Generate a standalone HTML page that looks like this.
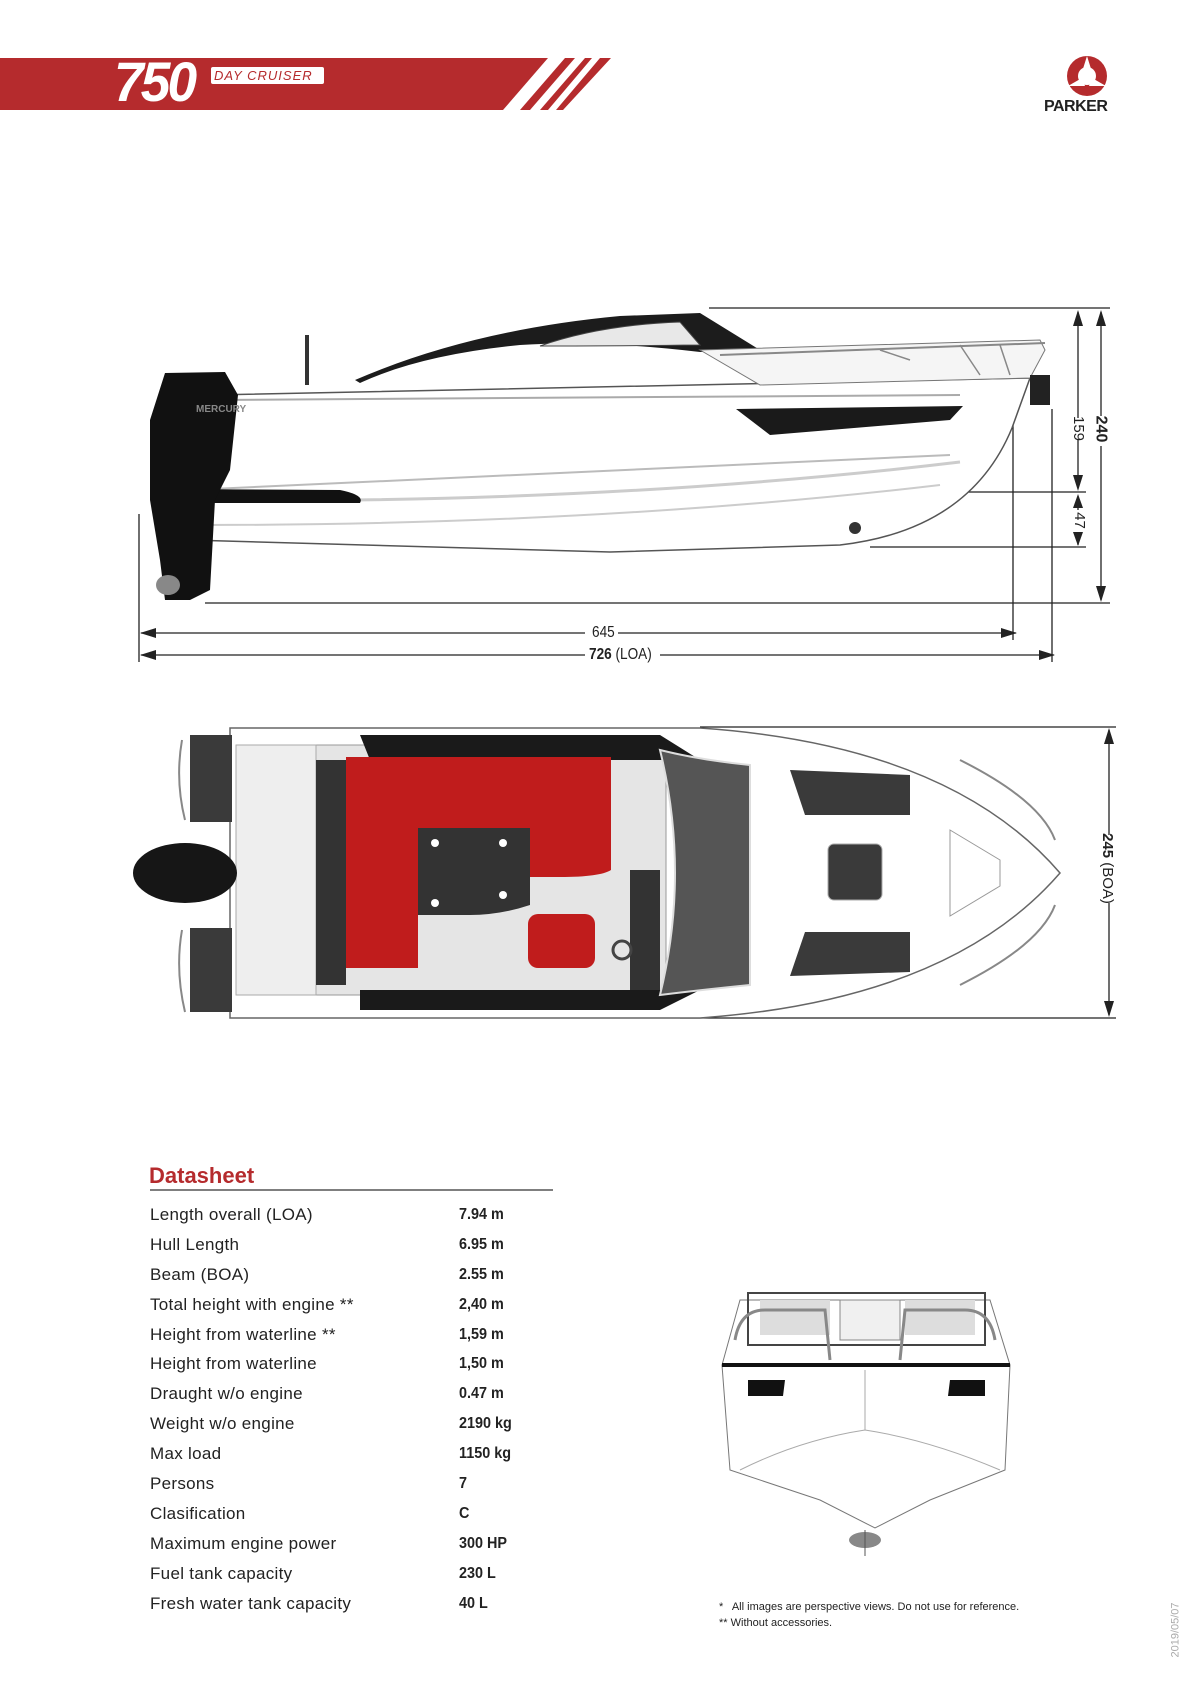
<!DOCTYPE html>
<html><head><meta charset="utf-8"><style>
html,body{margin:0;padding:0;background:#fff;}
body{width:1190px;height:1683px;position:relative;overflow:hidden;font-family:"Liberation Sans",sans-serif;}
.t{position:absolute;white-space:nowrap;}
.row{position:absolute;left:150px;font-size:17px;color:#222;letter-spacing:0.3px;}
.val{position:absolute;left:459px;font-size:16px;font-weight:bold;color:#222;transform:scaleX(0.9);transform-origin:left;}
</style></head><body>
<svg width="1190" height="1683" style="position:absolute;left:0;top:0" xmlns="http://www.w3.org/2000/svg">
<polygon points="0,58 611,58 563,110 0,110" fill="#b52b2d"/>
<polygon points="548,58 565,58 520,110 503,110" fill="#fff"/>
<polygon points="575,58 585,58 540,110 530,110" fill="#fff"/>
<polygon points="592,58 600,58 556,110 548,110" fill="#fff"/>
<rect x="211" y="67" width="113" height="17" rx="2" fill="#fff"/>
<circle cx="1087" cy="76" r="20" fill="#b52b2d"/>
<circle cx="1087" cy="76" r="9" fill="#fff"/>
<path d="M1087,56 L1092,72 L1082,72Z M1068,86 L1082,78 L1085,86Z M1106,86 L1092,78 L1089,86Z" fill="#fff"/>

<g stroke="#222" stroke-width="1.3" fill="none">
<line x1="709" y1="308" x2="1110" y2="308"/>
<line x1="941" y1="492" x2="1086" y2="492"/>
<line x1="870" y1="547" x2="1086" y2="547"/>
<line x1="205" y1="603" x2="1110" y2="603"/>
<line x1="139" y1="514" x2="139" y2="662"/>
<line x1="1013" y1="422" x2="1013" y2="640"/>
<line x1="1052" y1="409" x2="1052" y2="662"/>
<line x1="1078" y1="312" x2="1078" y2="418"/><line x1="1078" y1="440" x2="1078" y2="488"/>
<line x1="1078" y1="497" x2="1078" y2="510"/><line x1="1078" y1="532" x2="1078" y2="545"/>
<line x1="1101" y1="312" x2="1101" y2="416"/><line x1="1101" y1="446" x2="1101" y2="600"/>
<line x1="141" y1="633" x2="585" y2="633"/><line x1="618" y1="633" x2="1016" y2="633"/>
<line x1="141" y1="655" x2="585" y2="655"/><line x1="660" y1="655" x2="1054" y2="655"/>
</g>
<g fill="#222">
<polygon points="1078,310 1073,326 1083,326"/><polygon points="1078,491 1073,475 1083,475"/>
<polygon points="1078,494 1073,508 1083,508"/><polygon points="1078,546 1073,532 1083,532"/>
<polygon points="1101,310 1096,326 1106,326"/><polygon points="1101,602 1096,586 1106,586"/>
<polygon points="140,633 156,628 156,638"/><polygon points="1017,633 1001,628 1001,638"/>
<polygon points="140,655 156,650 156,660"/><polygon points="1055,655 1039,650 1039,660"/>
</g>
<path d="M211,395 L1030,378 L1012,428 Q970,530 840,545 L610,552 L190,540 L180,470 Z" fill="#fff" stroke="#555" stroke-width="1.5"/>
<path d="M190,490 L950,455" stroke="#bbb" stroke-width="2" fill="none"/>
<path d="M180,500 Q600,505 960,462" stroke="#ccc" stroke-width="3" fill="none"/>
<path d="M200,525 Q600,525 940,485" stroke="#ccc" stroke-width="2" fill="none"/>
<path d="M211,400 L960,395" stroke="#aaa" stroke-width="2" fill="none"/>
<path d="M355,380 Q470,330 620,316 L700,313 L760,350 L700,352 Q600,340 520,345 Q420,355 360,383Z" fill="#1c1c1c"/>
<path d="M540,346 Q600,325 680,322 L700,345 Q610,346 540,346Z" fill="#e8e8e8" stroke="#444"/>
<path d="M700,350 L1040,340 L1045,350 L1030,378 L760,385Z" fill="#f5f5f5" stroke="#777"/>
<path d="M720,355 L1045,343" stroke="#888" stroke-width="2" fill="none"/>
<path d="M880,350 L910,360 M960,345 L980,375 M1000,345 L1010,375" stroke="#888" stroke-width="1.5"/>
<rect x="305" y="335" width="4" height="50" fill="#333"/>
<path d="M736,409 L963,406 L950,420 L770,435Z" fill="#1a1a1a"/>
<path d="M151,489 L340,490 Q365,495 360,503 L151,503Z" fill="#111"/>
<rect x="1030" y="375" width="20" height="30" fill="#222"/>
<path d="M165,373 L225,372 L238,395 L230,470 L215,500 L210,590 L190,600 L165,600 L160,560 L150,500 L150,420 Z" fill="#111"/>
<ellipse cx="168" cy="585" rx="12" ry="10" fill="#888"/>
<circle cx="855" cy="528" r="6" fill="#333"/>

<g stroke="#222" stroke-width="1.3" fill="none">
<line x1="700" y1="727" x2="1116" y2="727"/>
<line x1="680" y1="1018" x2="1116" y2="1018"/>
<line x1="1109" y1="730" x2="1109" y2="835"/><line x1="1109" y1="903" x2="1109" y2="1015"/>
</g>
<polygon points="1109,728 1104,744 1114,744" fill="#222"/><polygon points="1109,1017 1104,1001 1114,1001" fill="#222"/>
<path d="M230,728 L700,728 Q950,745 1060,873 Q950,1000 700,1018 L230,1018 Z" fill="#fff" stroke="#666" stroke-width="1.5"/>
<path d="M190,735 L232,735 L232,822 L190,822Z M190,928 L232,928 L232,1012 L190,1012Z" fill="#3a3a3a"/>
<path d="M182,740 Q175,780 185,820 M182,930 Q175,970 185,1012" stroke="#888" fill="none" stroke-width="2"/>
<rect x="236" y="745" width="430" height="250" fill="#e5e5e5" stroke="#999"/>
<rect x="236" y="745" width="80" height="250" fill="#eee" stroke="#aaa"/>
<path d="M360,735 L660,735 L700,760 L660,760 L370,760Z M360,1010 L660,1010 L700,990 L360,990Z" fill="#1a1a1a"/>
<rect x="316" y="760" width="30" height="225" fill="#333"/>
<path d="M346,757 L611,757 L611,870 Q600,877 560,877 L418,877 L418,968 L346,968Z" fill="#c01c1c"/>
<path d="M418,828 L530,828 L530,905 Q500,915 470,915 L418,915Z" fill="#333"/>
<circle cx="435" cy="843" r="4" fill="#fff"/><circle cx="503" cy="843" r="4" fill="#fff"/><circle cx="503" cy="895" r="4" fill="#fff"/><circle cx="435" cy="903" r="4" fill="#fff"/>
<rect x="528" y="914" width="67" height="54" rx="10" fill="#c01c1c"/>
<path d="M630,870 L660,870 L660,990 L630,990Z" fill="#333"/>
<circle cx="622" cy="950" r="9" fill="none" stroke="#444" stroke-width="3"/>
<path d="M660,750 Q700,760 750,765 L750,985 Q700,990 660,995 Q690,873 660,750Z" fill="#555" stroke="#ddd" stroke-width="2"/>
<path d="M790,770 L910,775 L910,815 L805,815Z M790,976 L910,972 L910,932 L805,932Z" fill="#3a3a3a"/>
<rect x="828" y="844" width="54" height="56" rx="6" fill="#3a3a3a" stroke="#aaa"/>
<path d="M950,830 L1000,860 L1000,886 L950,916Z" fill="none" stroke="#999"/>
<path d="M960,760 Q1040,800 1055,840 M960,985 Q1040,945 1055,905" stroke="#888" fill="none" stroke-width="2"/>
<ellipse cx="185" cy="873" rx="52" ry="30" fill="#161616"/>

<path d="M740,1300 L990,1300 L1010,1365 L1005,1470 L930,1500 L875,1528 L820,1500 L730,1470 L722,1365 Z" fill="#fff" stroke="#777"/>
<path d="M748,1293 L985,1293 L985,1345 L748,1345Z" fill="none" stroke="#444" stroke-width="2"/>
<rect x="760" y="1300" width="70" height="35" fill="#ddd"/><rect x="840" y="1300" width="60" height="40" fill="#f0f0f0" stroke="#888"/><rect x="905" y="1300" width="70" height="35" fill="#ddd"/>
<path d="M735,1340 Q740,1310 765,1310 L825,1310 L830,1360 M995,1340 Q990,1310 965,1310 L905,1310 L900,1360" stroke="#888" stroke-width="3" fill="none"/>
<path d="M722,1365 L1010,1365" stroke="#111" stroke-width="4"/>
<path d="M748,1380 L785,1380 L783,1396 L748,1396Z M950,1380 L985,1380 L985,1396 L948,1396Z" fill="#111"/>
<path d="M865,1370 L865,1430 M740,1470 Q800,1440 865,1430 Q930,1440 1000,1470" stroke="#aaa" fill="none"/>
<ellipse cx="865" cy="1540" rx="16" ry="8" fill="#888"/><line x1="865" y1="1530" x2="865" y2="1556" stroke="#555"/>
<line x1="150" y1="1190" x2="553" y2="1190" stroke="#333" stroke-width="1.3"/>
</svg>

<div class="t" style="left:114px;top:52px;font-size:56px;line-height:60px;font-style:italic;font-weight:bold;color:#fff;letter-spacing:-3px;transform:scaleX(0.95);transform-origin:left">750</div>
<div class="t" style="left:214px;top:67px;font-size:13px;font-style:italic;color:#b52b2d;letter-spacing:1px;line-height:17px">DAY CRUISER</div>
<div class="t" style="left:1044px;top:98px;font-size:16px;font-weight:bold;color:#222;letter-spacing:-0.5px">PARKER</div>
<div class="t" style="left:196px;top:404px;font-size:10px;font-weight:bold;color:#888">MERCURY</div>

<div class="t" style="left:590px;top:624px;font-size:16px;color:#222;transform:scaleX(0.85)">645</div>
<div class="t" style="left:589px;top:646px;font-size:16px;color:#222;transform:scaleX(0.85);transform-origin:left"><b>726</b> (LOA)</div>
<div class="t" style="left:1066px;top:420px;font-size:15px;color:#222;transform:rotate(90deg);transform-origin:center">159</div>
<div class="t" style="left:1071px;top:512px;font-size:15px;color:#222;transform:rotate(90deg)">47</div>
<div class="t" style="left:1087px;top:420px;font-size:16px;font-weight:bold;color:#222;transform:rotate(90deg)">240</div>
<div class="t" style="left:1072px;top:860px;font-size:15px;color:#222;transform:rotate(90deg)"><b>245</b> (BOA)</div>

<div class="t" style="left:149px;top:1163px;font-size:22px;font-weight:bold;color:#b52b2d">Datasheet</div>
<div class="row" style="top:1205px">Length overall (LOA)</div><div class="val" style="top:1206px">7.94 m</div>
<div class="row" style="top:1235px">Hull Length</div><div class="val" style="top:1236px">6.95 m</div>
<div class="row" style="top:1265px">Beam (BOA)</div><div class="val" style="top:1266px">2.55 m</div>
<div class="row" style="top:1295px">Total height with engine **</div><div class="val" style="top:1296px">2,40 m</div>
<div class="row" style="top:1325px">Height from waterline **</div><div class="val" style="top:1326px">1,59 m</div>
<div class="row" style="top:1354px">Height from waterline</div><div class="val" style="top:1355px">1,50 m</div>
<div class="row" style="top:1384px">Draught w/o engine</div><div class="val" style="top:1385px">0.47 m</div>
<div class="row" style="top:1414px">Weight w/o engine</div><div class="val" style="top:1415px">2190 kg</div>
<div class="row" style="top:1444px">Max load</div><div class="val" style="top:1445px">1150 kg</div>
<div class="row" style="top:1474px">Persons</div><div class="val" style="top:1475px">7</div>
<div class="row" style="top:1504px">Clasification</div><div class="val" style="top:1505px">C</div>
<div class="row" style="top:1534px">Maximum engine power</div><div class="val" style="top:1535px">300 HP</div>
<div class="row" style="top:1564px">Fuel tank capacity</div><div class="val" style="top:1565px">230 L</div>
<div class="row" style="top:1594px">Fresh water tank capacity</div><div class="val" style="top:1595px">40 L</div>

<div class="t" style="left:719px;top:1601px;font-size:11px;color:#222">*&nbsp;&nbsp; All images are perspective views. Do not use for reference.</div>
<div class="t" style="left:719px;top:1617px;font-size:11px;color:#222">** Without accessories.</div>
<div class="t" style="left:1148px;top:1624px;font-size:11px;color:#aaa;transform:rotate(-90deg)">2019/05/07</div>
</body></html>
